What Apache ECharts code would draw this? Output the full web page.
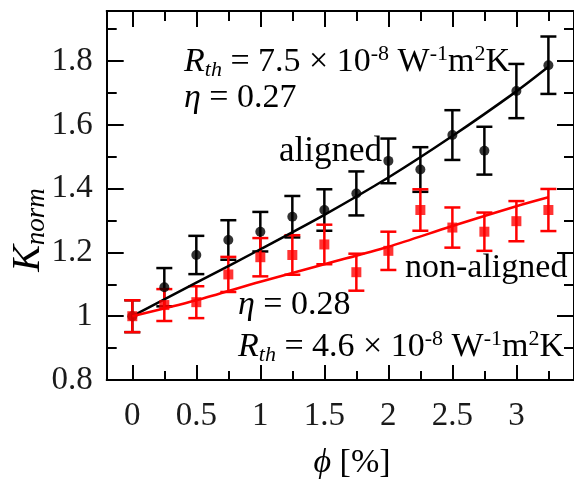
<!DOCTYPE html>
<html>
<head>
<meta charset="utf-8">
<script src="https://cdn.jsdelivr.net/npm/echarts/dist/echarts.min.js"></script>
<style>
html,body{margin:0;padding:0;background:#fff;}
#chart{width:574px;height:483px;}
</style>
</head>
<body>
<div id="chart"></div>
<script>
// ---- data ----
const phi = [0, 0.25, 0.5, 0.75, 1, 1.25, 1.5, 1.75, 2, 2.25, 2.5, 2.75, 3, 3.25];
const alignedK   = [1.00, 1.091, 1.192, 1.239, 1.265, 1.312, 1.333, 1.385, 1.487, 1.460, 1.568, 1.519, 1.706, 1.787];
const alignedErr = [0.05, 0.06, 0.06, 0.062, 0.062, 0.065, 0.065, 0.069, 0.07, 0.07, 0.078, 0.075, 0.085, 0.09];
const nonK   = [1.00, 1.035, 1.044, 1.131, 1.185, 1.192, 1.225, 1.138, 1.205, 1.333, 1.278, 1.265, 1.298, 1.333];
const nonErr = [0.05, 0.05, 0.05, 0.055, 0.06, 0.062, 0.062, 0.058, 0.06, 0.065, 0.063, 0.06, 0.063, 0.066];
const fitX = [0, 0.5, 1, 1.5, 2, 2.5, 3, 3.25];
const alignedFit = [1.0, 1.105, 1.21, 1.318, 1.435, 1.565, 1.705, 1.782];
const nonFit     = [1.0, 1.05, 1.108, 1.163, 1.218, 1.283, 1.345, 1.373];
const xMajor = [0, 0.5, 1, 1.5, 2, 2.5, 3];
const xMinor = [0.25, 0.75, 1.25, 1.75, 2.25, 2.75, 3.25];
const yMajor = [0.8, 1, 1.2, 1.4, 1.6, 1.8];
const yMinor = [0.9, 1.1, 1.3, 1.5, 1.7, 1.9];

const FONT = '"Liberation Serif", "DejaVu Serif", serif';
const RED = '#ff0000';
const X_MIN = -0.2, X_MAX = 3.45, Y_MIN = 0.8, Y_MAX = 1.957;

function xAx(pos, ticks, len, showLine, showLabel) {
  return {
    type: 'value', position: pos, min: X_MIN, max: X_MAX, gridIndex: 0,
    axisLine: {show: showLine, onZero: false, lineStyle: {color: '#000', width: 2}},
    axisTick: {show: true, inside: true, length: len, customValues: ticks, lineStyle: {color: '#000', width: 2}},
    axisLabel: showLabel ? {show: true, customValues: ticks, margin: 20, fontSize: 33, fontFamily: FONT, color: '#1a1a1a'} : {show: false},
    splitLine: {show: false}
  };
}
function yAx(pos, ticks, len, showLine, showLabel) {
  return {
    type: 'value', position: pos, min: Y_MIN, max: Y_MAX, gridIndex: 0,
    axisLine: {show: showLine, onZero: false, lineStyle: {color: '#000', width: 2}},
    axisTick: {show: true, inside: true, length: len, customValues: ticks, lineStyle: {color: '#000', width: 2}},
    axisLabel: showLabel ? {show: true, customValues: ticks, margin: 14, fontSize: 33, fontFamily: FONT, color: '#1a1a1a'} : {show: false},
    splitLine: {show: false}
  };
}

function errSeries(name, ks, errs, color) {
  return {
    name: name, type: 'custom', xAxisIndex: 0, yAxisIndex: 0, z: 3,
    data: phi.map((x, i) => [x, ks[i] - errs[i], ks[i] + errs[i]]),
    encode: {x: 0, y: [1, 2]},
    renderItem: function (params, api) {
      const x = api.value(0), lo = api.value(1), hi = api.value(2);
      const pt = api.coord([x, hi]), pb = api.coord([x, lo]);
      const w = 8;
      const st = {stroke: color, lineWidth: 2.5};
      return {type: 'group', children: [
        {type: 'line', shape: {x1: pt[0], y1: pt[1], x2: pb[0], y2: pb[1]}, style: st},
        {type: 'line', shape: {x1: pt[0] - w, y1: pt[1], x2: pt[0] + w, y2: pt[1]}, style: st},
        {type: 'line', shape: {x1: pb[0] - w, y1: pb[1], x2: pb[0] + w, y2: pb[1]}, style: st}
      ]};
    }
  };
}

const richBase = function (color, big, small) {
  return {
    n: {fontSize: big, fontFamily: FONT, color: color, lineHeight: big + 4, verticalAlign: 'middle'},
    i: {fontSize: big, fontFamily: FONT, fontStyle: 'italic', color: color, lineHeight: big + 4, verticalAlign: 'middle'},
    sub: {fontSize: small, fontFamily: FONT, fontStyle: 'italic', color: color, lineHeight: small, verticalAlign: 'bottom'},
    sup: {fontSize: small, fontFamily: FONT, color: color, lineHeight: small, verticalAlign: 'top'}
  };
};
const rthText = (v) => '{i|R}{sub|th}{n| = ' + v + ' × 10}{sup|-8}{n| W}{sup|-1}{n|m}{sup|2}{n|K}';

const chart = echarts.init(document.getElementById('chart'), null, {renderer: 'canvas'});
chart.setOption({
  animation: false,
  backgroundColor: '#fff',
  grid: {left: 106.7, top: 11, width: 476, height: 369, containLabel: false},
  xAxis: [
    xAx('bottom', xMajor, 15, true, true),
    xAx('bottom', xMinor, 9, false, false),
    xAx('top', xMajor, 16, true, false),
    xAx('top', xMinor, 10, false, false)
  ],
  yAxis: [
    yAx('left', yMajor, 17, true, true),
    yAx('left', yMinor, 10, false, false),
    yAx('right', yMajor, 17, true, false),
    yAx('right', yMinor, 10, false, false)
  ],
  series: [
    errSeries('alignedErr', alignedK, alignedErr, '#000'),
    {name: 'alignedFit', type: 'line', smooth: 0.3, symbol: 'none', data: fitX.map((x, i) => [x, alignedFit[i]]),
     lineStyle: {color: '#000', width: 2.5}, z: 3},
    {name: 'aligned', type: 'scatter', symbol: 'circle', symbolSize: 10, data: phi.map((x, i) => [x, alignedK[i]]),
     itemStyle: {color: '#000'}, z: 4},
    errSeries('nonErr', nonK, nonErr, RED),
    {name: 'nonFit', type: 'line', smooth: 0.3, symbol: 'none', data: fitX.map((x, i) => [x, nonFit[i]]),
     lineStyle: {color: RED, width: 2.5}, z: 5},
    {name: 'non', type: 'scatter', symbol: 'rect', symbolSize: 10, data: phi.map((x, i) => [x, nonK[i]]),
     itemStyle: {color: RED}, z: 6}
  ],
  graphic: [
    {type: 'text', x: 184, y: 62, z: 10, style: {text: rthText('7.5'), rich: richBase('#000', 34, 22), align: 'left', verticalAlign: 'middle'}},
    {type: 'text', x: 184, y: 98, z: 10, style: {text: '{i|η}{n| = 0.27}', rich: richBase('#000', 34, 22), align: 'left', verticalAlign: 'middle'}},
    {type: 'text', x: 279, y: 152, z: 10, style: {text: '{n|aligned}', rich: richBase('#000', 35, 22), align: 'left', verticalAlign: 'middle'}},
    {type: 'text', x: 405, y: 268, z: 10, style: {text: '{n|non-aligned}', rich: richBase(RED, 34, 22), align: 'left', verticalAlign: 'middle'}},
    {type: 'text', x: 238, y: 305, z: 10, style: {text: '{i|η}{n| = 0.28}', rich: richBase(RED, 34, 22), align: 'left', verticalAlign: 'middle'}},
    {type: 'text', x: 238, y: 347, z: 10, style: {text: rthText('4.6'), rich: richBase(RED, 34, 22), align: 'left', verticalAlign: 'middle'}},
    {type: 'text', x: 28, y: 230, rotation: Math.PI / 2, z: 10, style: {text: '{i|K}{sub|norm}', rich: richBase('#000', 40, 27), align: 'center', verticalAlign: 'middle'}},
    {type: 'text', x: 352, y: 463, z: 10, style: {text: '{i|ϕ}{n| [%]}', rich: richBase('#1a1a1a', 34, 22), align: 'center', verticalAlign: 'middle'}}
  ]
});
</script>
</body>
</html>
